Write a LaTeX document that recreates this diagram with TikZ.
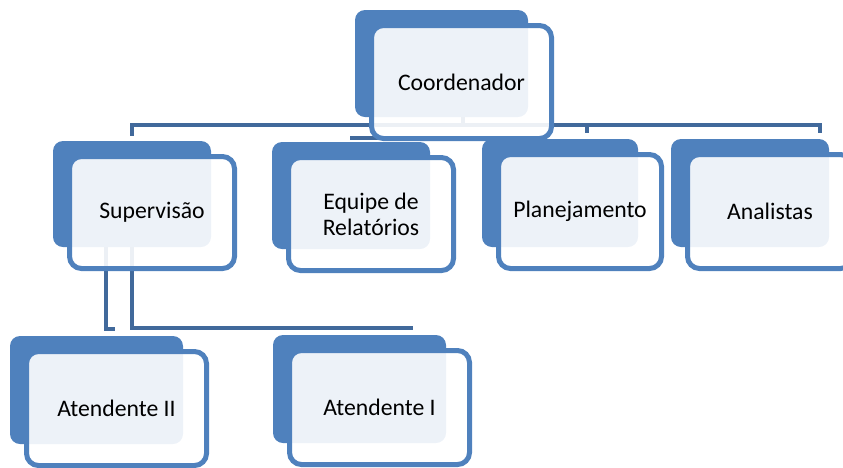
\documentclass[tikz,border=0pt]{standalone}
\usepackage{fontspec}
\setmainfont{Carlito}
\pgfdeclarelayer{bg}
\pgfsetlayers{bg,main}
\definecolor{boxblue}{RGB}{79,129,189}
\definecolor{linkblue}{RGB}{65,105,155}

\begin{document}
\begin{tikzpicture}[x=1pt,y=-1pt,
  backbox/.style={fill=boxblue,rounded corners=10pt,anchor=north west,inner sep=0pt,outer sep=0pt},
  frontbox/.style={draw=boxblue,line width=5pt,fill=white,fill opacity=0.9,text opacity=1,rounded corners=12pt,anchor=north west,inner sep=0pt,outer sep=0pt,align=center,font=\fontsize{23.7}{26}\selectfont},
  link/.style={draw=linkblue,line width=4.5pt}]
\useasboundingbox (0,0) rectangle (843,467);
% top level
\node[backbox,minimum width=173pt,minimum height=107pt] (coordback) at (355,10) {};
\node[frontbox,minimum width=180pt,minimum height=113pt] (coord) at (371.5,25.5) {Coordenador};
% second level
\node[backbox,minimum width=158pt,minimum height=106pt] (supback) at (53,141) {};
\node[frontbox,minimum width=165pt,minimum height=112pt] (sup) at (69.5,156.5) {Supervisão};
\node[backbox,minimum width=158pt,minimum height=107pt] (equipeback) at (272,142) {};
\node[frontbox,minimum width=165pt,minimum height=113pt] (equipe) at (288.5,157.5) {Equipe de\\Relatórios};
\node[backbox,minimum width=156pt,minimum height=108pt] (planback) at (482,139) {};
\node[frontbox,minimum width=163pt,minimum height=114pt] (plan) at (498.5,154.5) {Planejamento};
\node[backbox,minimum width=158pt,minimum height=108pt] (analback) at (671,139) {};
\node[frontbox,minimum width=165pt,minimum height=114pt] (anal) at (687.5,154.5) {Analistas};
% third level
\node[backbox,minimum width=173pt,minimum height=108pt] (atdoisback) at (10,336) {};
\node[frontbox,minimum width=180pt,minimum height=114pt] (atdois) at (26.5,351.5) {Atendente II};
\node[backbox,minimum width=173pt,minimum height=108pt] (atumback) at (273,335) {};
\node[frontbox,minimum width=180pt,minimum height=114pt] (atum) at (289.5,350.5) {Atendente I};
% joints
\coordinate (hub) at (463,125);
\coordinate (supend) at (132,136);
\coordinate (jplan) at (587,125);
\coordinate (jplanend) at (587,133);
\coordinate (analend) at (820,133);
\coordinate (lowL) at (350,138);
\coordinate (lowR) at (478,138);
\coordinate (supL) at (106,247);
\coordinate (subfoot) at (115,329);
\coordinate (atbarR) at (413,328);
\begin{pgfonlayer}{bg}
\draw[link] (coordback.south -| hub) -- (hub);
\draw[link] (hub) -| (supend);
\draw[link] (hub) -| (analend);
\draw[link] (jplan) -- (jplanend);
\draw[link] (lowL) -- (lowR);
\draw[link] (supback.south) |- (atbarR);
\draw[link] (supL) |- (subfoot);
\end{pgfonlayer}
\end{tikzpicture}
\end{document}
